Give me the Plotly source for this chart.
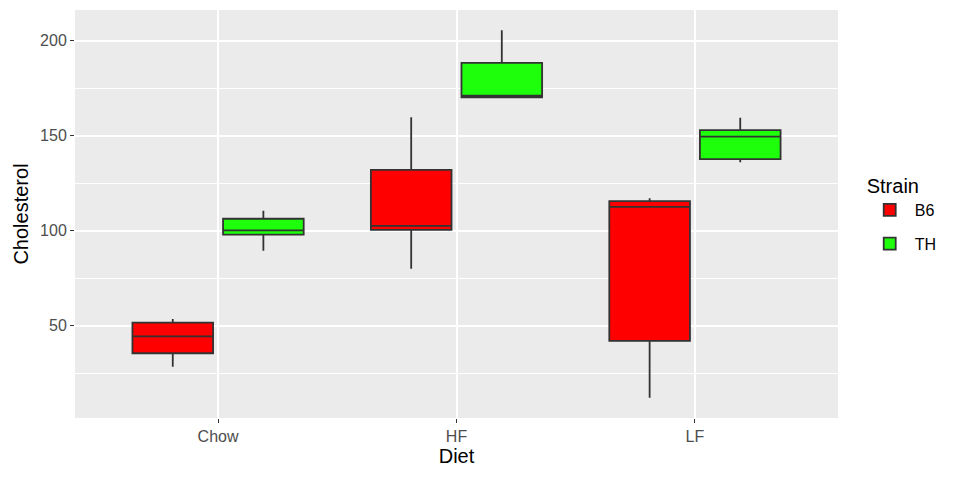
import plotly.graph_objects as go

diets = ["Chow", "HF", "LF"]

b6_lower = [28.4, 80.0, 12.1]
b6_q1 = [35.5, 100.4, 42.0]
b6_median = [44.4, 102.5, 112.5]
b6_q3 = [51.6, 132.0, 115.6]
b6_upper = [53.5, 159.7, 117.1]

th_lower = [89.5, 169.7, 136.0]
th_q1 = [97.9, 170.2, 137.7]
th_median = [100.2, 171.1, 149.5]
th_q3 = [106.3, 188.4, 153.0]
th_upper = [110.5, 205.6, 159.5]

y_ticks = [50, 100, 150, 200]

fig = go.Figure()
for name, color, lo, q1, med, q3, up in [
    ("B6", "#FF0000", b6_lower, b6_q1, b6_median, b6_q3, b6_upper),
    ("TH", "#1EFF0C", th_lower, th_q1, th_median, th_q3, th_upper),
]:
    fig.add_trace(go.Box(
        name=name, x=diets, q1=q1, median=med, q3=q3,
        lowerfence=lo, upperfence=up, legendgroup=name,
        fillcolor=color, line=dict(color="#333333", width=1.8),
        boxpoints=False, whiskerwidth=0,
    ))

fig.update_layout(
    width=960, height=480,
    boxmode="group", boxgap=0.24, boxgroupgap=0.11,
    paper_bgcolor="white", plot_bgcolor="#EBEBEB",
    margin=dict(l=67, r=130, t=2, b=70, autoexpand=False),
    font=dict(family="Liberation Sans, Arial, sans-serif", size=16, color="#4D4D4D"),
    legend=dict(
        title=dict(text="Strain", font=dict(size=20, color="black")),
        font=dict(size=16, color="black"),
        x=1.035, xanchor="left", y=0.5, yanchor="middle",
        bgcolor="white", traceorder="grouped", tracegroupgap=10,
        itemwidth=40,
    ),
    showlegend=True,
)
fig.update_xaxes(
    title=dict(text="Diet", font=dict(size=20, color="black"), standoff=4),
    range=[-0.6, 2.6], showgrid=True, gridcolor="white", gridwidth=1.8,
    ticks="outside", ticklen=4, tickcolor="#333333", zeroline=False,
    tickfont=dict(size=16, color="#4D4D4D"),
)
fig.update_yaxes(
    title=dict(text="Cholesterol", font=dict(size=20, color="black"), standoff=6),
    range=[1.4, 216.2], tickvals=y_ticks, showgrid=True, gridcolor="white", gridwidth=1.8,
    ticks="outside", ticklen=4, tickcolor="#333333", zeroline=False,
    tickfont=dict(size=16, color="#4D4D4D"),
    minor=dict(dtick=25, tick0=0, showgrid=True, gridcolor="white", gridwidth=0.8, ticks=""),
)

fig.write_html("out.html")
